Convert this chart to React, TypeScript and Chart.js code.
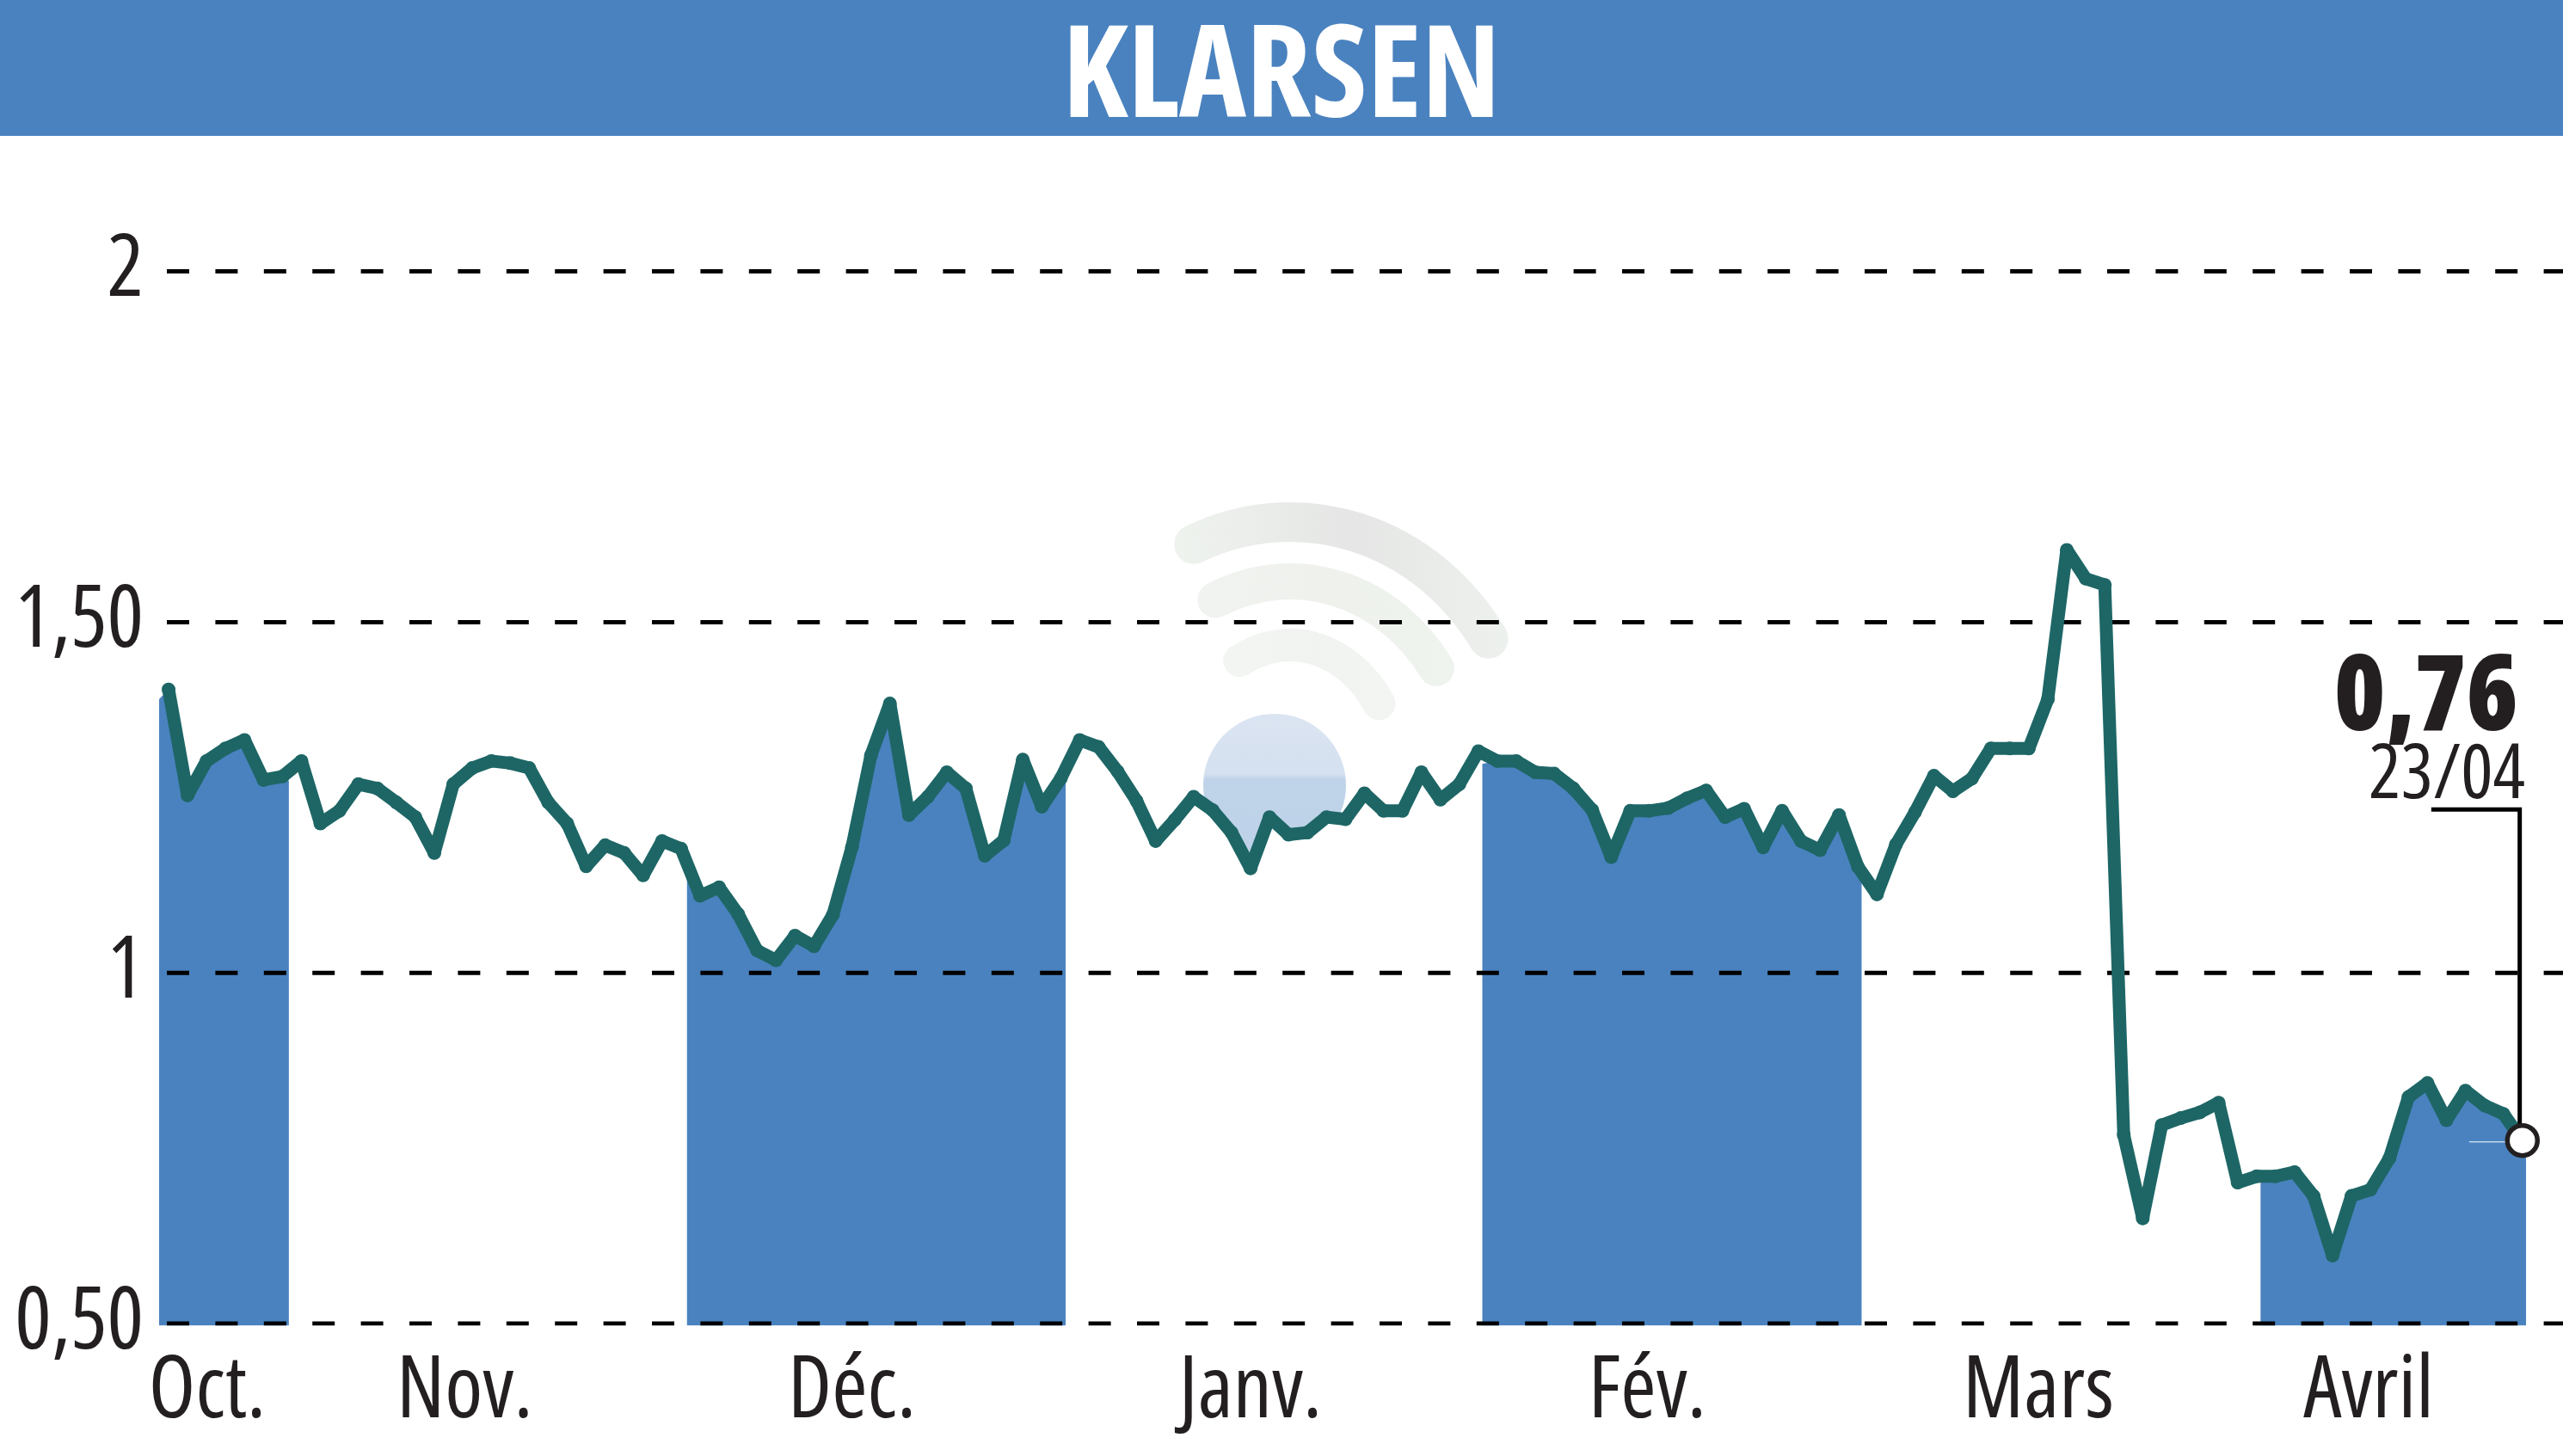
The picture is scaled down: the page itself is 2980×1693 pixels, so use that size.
import { useEffect, useRef } from 'react';
import { Chart, registerables } from 'chart.js';

Chart.register(...registerables);

const BLUE = '#4a82bf';
const TEAL = '#1e6666';
const INK = '#231f20';
const FONT = '"Open Sans", sans-serif';
const STRETCH = 'extra-condensed';

const title = 'KLARSEN';
const lastValueLabel = '0,76';
const lastDateLabel = '23/04';

// closing price, one value per session
const closes = [
  1.404, 1.253, 1.302, 1.32, 1.332, 1.275, 1.28, 1.302, 1.213, 1.231, 1.269, 1.263, 1.243, 1.222, 1.171, 1.269,
  1.292, 1.302, 1.299, 1.292, 1.243, 1.213, 1.152, 1.182, 1.171, 1.139, 1.188, 1.177, 1.11, 1.122, 1.084, 1.032,
  1.018, 1.053, 1.038, 1.083, 1.179, 1.31, 1.384, 1.225, 1.251, 1.286, 1.263, 1.167, 1.189, 1.304, 1.237, 1.277,
  1.332, 1.322, 1.287, 1.245, 1.188, 1.218, 1.251, 1.232, 1.2, 1.149, 1.222, 1.197, 1.2, 1.222, 1.219, 1.256,
  1.231, 1.231, 1.286, 1.247, 1.269, 1.316, 1.302, 1.302, 1.286, 1.284, 1.263, 1.232, 1.165, 1.231, 1.231, 1.235,
  1.249, 1.26, 1.222, 1.234, 1.179, 1.231, 1.188, 1.175, 1.225, 1.151, 1.112, 1.183, 1.229, 1.281, 1.259, 1.277,
  1.32, 1.32, 1.32, 1.39, 1.603, 1.562, 1.553, 0.769, 0.65, 0.783, 0.793, 0.801, 0.815, 0.701, 0.71, 0.71,
  0.716, 0.682, 0.597, 0.682, 0.691, 0.736, 0.823, 0.843, 0.79, 0.832, 0.811, 0.799, 0.761,
];

// shaded months: session position of each edge, and the height of the area at that edge
const bandStarts = [-0.5, 27.3, 69.2, 110.2];
const bandEnds = [6.34, 47.26, 89.2, 124.2];
const bandStartTops = [1.39, 1.137, 1.298, 0.703];
const bandEndTops = [1.274, 1.274, 1.13, 0.739];

const monthLabels = ['Oct.', 'Nov.', 'Déc.', 'Janv.', 'Fév.', 'Mars', 'Avril'];
const monthTicks = [2.04, 15.6, 36, 57, 77.9, 98.5, 115.9];

const priceTicks = [0.5, 1, 1.5, 2];
const priceLabels = ['0,50', '1', '1,50', '2'];

const lastIndex = closes.length - 1;
const lastClose = closes[lastIndex];
const leaderLevel = 1.233;

const X_MIN = -0.498;
const X_MAX = 126.14;
const Y_MIN = 0.497;
const Y_MAX = 2.2055;

const sessions = closes.map((y, x) => ({ x, y }));

const bandData = (i: number) => [
  { x: bandStarts[i], y: bandStartTops[i] },
  ...sessions.filter((p) => p.x > bandStarts[i] && p.x < bandEnds[i]),
  { x: bandEnds[i], y: bandEndTops[i] },
];

// faint logo behind the curve, only visible above the line
const watermark = {
  id: 'watermark',
  beforeDatasetsDraw(chart: any) {
    const { ctx, chartArea, scales } = chart;
    ctx.save();
    ctx.beginPath();
    ctx.moveTo(chartArea.left, chartArea.top);
    sessions.forEach((p) => ctx.lineTo(scales.x.getPixelForValue(p.x), scales.y.getPixelForValue(p.y)));
    ctx.lineTo(chartArea.right, chartArea.top);
    ctx.closePath();
    ctx.clip();

    const cx = 1500;
    const cy = 905;
    const rings = [
      { rx: 275, ry: 298, w: 46, from: -114, to: -33, colors: ['#eff3ee', '#e5e6e5', '#eef2ee'] },
      { rx: 205, ry: 229, w: 42, from: -115, to: -34, colors: ['#f0f3ef', '#eef1ec', '#eff4ef'] },
      { rx: 125, ry: 155, w: 38, from: -118, to: -34, colors: ['#f2f5f1', '#f0f3ef', '#f2f5f2'] },
    ];
    ctx.lineCap = 'round';
    rings.forEach((ring) => {
      const grad = ctx.createLinearGradient(cx - ring.rx * 0.5, 0, cx + ring.rx, 0);
      ring.colors.forEach((c, i) => grad.addColorStop(i / 2, c));
      ctx.strokeStyle = grad;
      ctx.lineWidth = ring.w;
      ctx.beginPath();
      ctx.ellipse(cx, cy, ring.rx, ring.ry, 0, (ring.from * Math.PI) / 180, (ring.to * Math.PI) / 180);
      ctx.stroke();
    });

    const ball = ctx.createLinearGradient(0, 830, 0, 996);
    ball.addColorStop(0, '#dbe5f2');
    ball.addColorStop(0.42, '#d5e0f0');
    ball.addColorStop(0.46, '#bfd3e9');
    ball.addColorStop(1, '#bdd2e8');
    ctx.fillStyle = ball;
    ctx.beginPath();
    ctx.arc(1482, 913, 83, 0, Math.PI * 2);
    ctx.fill();
    ctx.restore();
  },
};

const lastLabels = {
  id: 'lastLabels',
  afterDatasetsDraw(chart: any) {
    const { ctx } = chart;
    ctx.save();
    ctx.fillStyle = INK;
    ctx.textAlign = 'right';
    ctx.textBaseline = 'alphabetic';
    ctx.font = `800 ${STRETCH} 122px ${FONT}`;
    ctx.fillText(lastValueLabel, 2928, 849);
    ctx.font = `${STRETCH} 88px ${FONT}`;
    ctx.fillText(lastDateLabel, 2936, 928);
    ctx.restore();
  },
};

export default function App() {
  const canvasRef = useRef<HTMLCanvasElement | null>(null);

  useEffect(() => {
    document.body.style.margin = '0';
    document.body.style.overflow = 'hidden';
    if (!canvasRef.current) {
      return;
    }

    const chart = new Chart(canvasRef.current, {
      type: 'line',
      data: {
        datasets: [
          ...bandStarts.map((_, i) => ({
            label: `band ${i}`,
            data: bandData(i),
            borderWidth: 0,
            pointRadius: 0,
            backgroundColor: BLUE,
            fill: 'start',
            tension: 0,
            order: 10,
          })),
          ...priceTicks.map((level) => ({
            label: `grid ${level}`,
            data: [
              { x: -0.09, y: level },
              { x: X_MAX, y: level },
            ],
            borderColor: '#000000',
            borderWidth: 5,
            borderDash: [26, 30.4],
            pointRadius: 0,
            fill: false,
            order: 5,
          })),
          {
            label: 'last value mark',
            data: [
              { x: 121.2, y: 0.759 },
              { x: lastIndex, y: 0.759 },
            ],
            borderColor: '#ffffff',
            borderWidth: 1,
            pointRadius: 0,
            fill: false,
            order: 4,
          },
          {
            label: title,
            data: sessions,
            borderColor: TEAL,
            backgroundColor: TEAL,
            borderWidth: 15,
            borderJoinStyle: 'round',
            pointRadius: 8,
            pointBorderWidth: 0,
            tension: 0,
            fill: false,
            order: 3,
          },
          {
            label: 'leader',
            data: [
              { x: lastIndex - 4.8, y: leaderLevel },
              { x: lastIndex - 0.14, y: leaderLevel },
              { x: lastIndex - 0.14, y: lastClose + 0.02 },
            ],
            borderColor: '#000000',
            borderWidth: 5,
            borderJoinStyle: 'miter',
            pointRadius: 0,
            fill: false,
            order: 2,
          },
          {
            label: 'last close',
            data: [{ x: lastIndex, y: lastClose }],
            showLine: false,
            pointRadius: 17.5,
            pointBorderWidth: 5.5,
            pointBorderColor: INK,
            pointBackgroundColor: '#ffffff',
            fill: false,
            order: 1,
          },
        ],
      },
      options: {
        animation: false,
        responsive: false,
        devicePixelRatio: 1,
        layout: { autoPadding: false, padding: { top: 148, left: 0, right: 0, bottom: 0 } },
        plugins: { legend: { display: false }, tooltip: { enabled: false }, title: { display: false } },
        scales: {
          x: {
            type: 'linear',
            min: X_MIN,
            max: X_MAX,
            afterBuildTicks: (scale: any) => {
              scale.ticks = monthTicks.map((value) => ({ value }));
            },
            afterFit: (scale: any) => {
              scale.height = 151.5;
              scale.paddingLeft = 0;
              scale.paddingRight = 0;
            },
            grid: { display: false, drawTicks: false },
            border: { display: false },
            ticks: {
              autoSkip: false,
              maxRotation: 0,
              minRotation: 0,
              padding: 18,
              color: INK,
              font: { family: FONT, size: 100, weight: STRETCH },
              callback: (_value: any, index: number) => monthLabels[index],
            },
          },
          y: {
            min: Y_MIN,
            max: Y_MAX,
            afterBuildTicks: (scale: any) => {
              scale.ticks = priceTicks.map((value) => ({ value }));
            },
            afterFit: (scale: any) => {
              scale.width = 185;
              scale.paddingTop = 0;
              scale.paddingBottom = 0;
            },
            grid: { display: false, drawTicks: false },
            border: { display: false },
            ticks: {
              autoSkip: false,
              padding: 18,
              color: INK,
              font: { family: FONT, size: 100, weight: STRETCH },
              callback: (_value: any, index: number) => priceLabels[index],
            },
          },
        },
      },
      plugins: [watermark, lastLabels],
    } as any);

    return () => {
      chart.destroy();
    };
  }, []);

  return (
    <div style={{ position: 'relative', width: 2980, height: 1693, background: '#ffffff', overflow: 'hidden' }}>
      <canvas ref={canvasRef} width={2980} height={1693} style={{ display: 'block', width: 2980, height: 1693 }} />
      <div
        style={{
          position: 'absolute',
          top: 0,
          left: 0,
          width: 2980,
          height: 158,
          background: BLUE,
          color: '#ffffff',
          textAlign: 'center',
          fontFamily: FONT,
          fontStretch: STRETCH,
          fontWeight: 'bold',
          fontSize: 148,
          lineHeight: '158px',
        }}
      >
        {title}
      </div>
    </div>
  );
}
